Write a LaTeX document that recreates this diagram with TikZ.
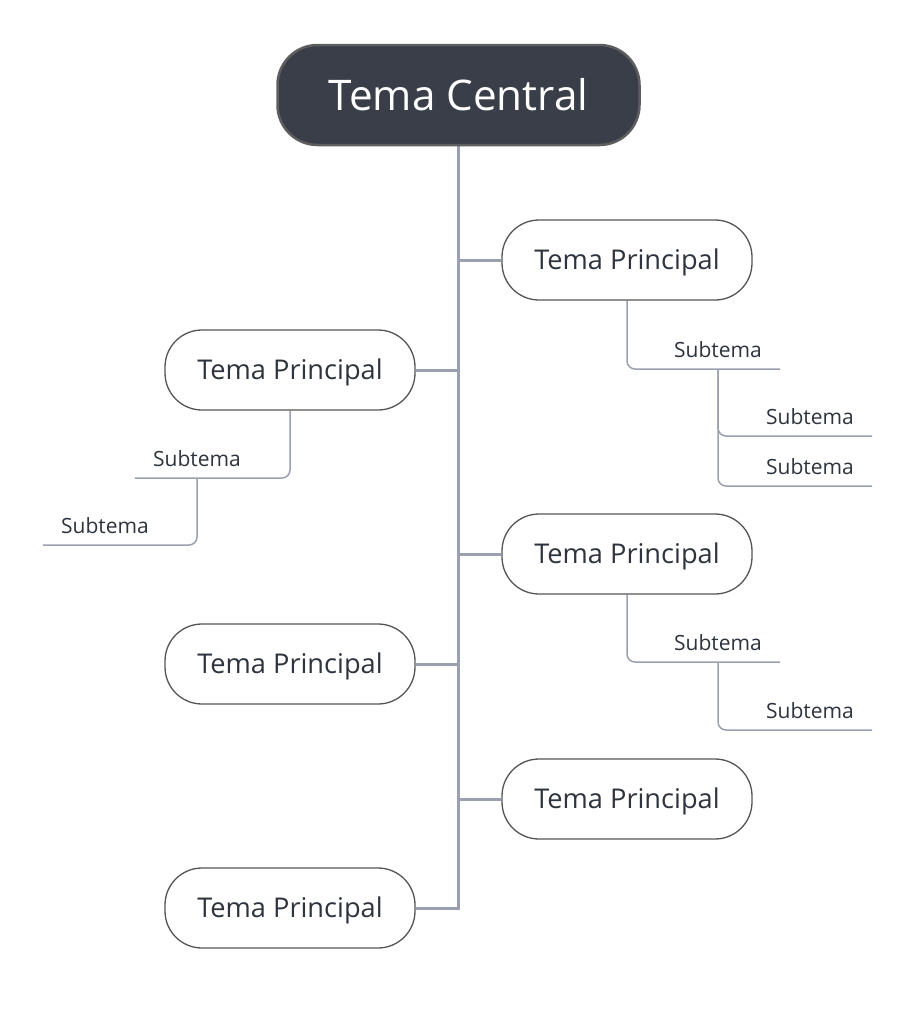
\documentclass[tikz,border=0pt]{standalone}
\usepackage{fontspec}
\setmainfont{Open Sans}
\usetikzlibrary{backgrounds}
\definecolor{cfill}{HTML}{393E48}
\definecolor{cborder}{HTML}{5E5E60}
\definecolor{mborder}{HTML}{555555}
\definecolor{tcol}{HTML}{2E343D}
\definecolor{lcol}{HTML}{9BA0B1}
\begin{document}
\begin{tikzpicture}[x=1pt,y=-1pt,
  central/.style={draw=cborder, line width=2.5pt, fill=cfill, rounded corners=40pt,
    minimum width=362pt, minimum height=100pt, text=white, inner sep=0pt,
    text height=30pt, text depth=0pt,
    font=\fontsize{42.2}{48}\selectfont},
  maintopic/.style={draw=mborder, line width=1.3pt, fill=white, rounded corners=37pt,
    minimum width=250pt, minimum height=80pt, text=tcol, inner sep=0pt,
    text height=19.4pt, text depth=0pt,
    font=\fontsize{27.2}{32}\selectfont},
  subtopic/.style={text=tcol, font=\fontsize{21}{25}\selectfont, minimum width=124pt,
    text height=15pt, text depth=4pt, inner xsep=0pt, inner ysep=7pt, anchor=south},
  trunk/.style={draw=lcol, line width=3pt},
  twig/.style={draw=lcol, line width=1.5pt, rounded corners=8pt}]
\useasboundingbox (0,0) rectangle (918,1009);

\node[central] (c) at (458.5,95) {Tema Central};

\node[maintopic] (r1) at (627,260) {Tema Principal};
\node[maintopic] (l1) at (290,370) {Tema Principal};
\node[maintopic] (r2) at (627,554) {Tema Principal};
\node[maintopic] (l2) at (290,664) {Tema Principal};
\node[maintopic] (r3) at (627,799) {Tema Principal};
\node[maintopic] (l3) at (290,908) {Tema Principal};

\node[subtopic] (s1)  at (718,369) {Subtema};
\node[subtopic] (s1a) at (810,436) {Subtema};
\node[subtopic] (s1b) at (810,486) {Subtema};
\node[subtopic] (sl1) at (197,478) {Subtema};
\node[subtopic] (sl2) at (105,545) {Subtema};
\node[subtopic] (s2)  at (718,662) {Subtema};
\node[subtopic] (s2a) at (810,730) {Subtema};

\begin{scope}[on background layer]
\draw[trunk] (c.south) -- (c.south |- l3.east) -- (l3.east);
\draw[trunk] (r1.west) -- (r1.west -| c.south);
\draw[trunk] (l1.east) -- (l1.east -| c.south);
\draw[trunk] (r2.west) -- (r2.west -| c.south);
\draw[trunk] (l2.east) -- (l2.east -| c.south);
\draw[trunk] (r3.west) -- (r3.west -| c.south);

\draw[twig] (r1.south) |- (s1.south east);
\draw[twig] (s1.south) |- (s1a.south east);
\draw[twig] (s1.south) |- (s1b.south east);
\draw[twig] (l1.south) |- (sl1.south west);
\draw[twig] (sl1.south) |- (sl2.south west);
\draw[twig] (r2.south) |- (s2.south east);
\draw[twig] (s2.south) |- (s2a.south east);
\end{scope}
\end{tikzpicture}
\end{document}
